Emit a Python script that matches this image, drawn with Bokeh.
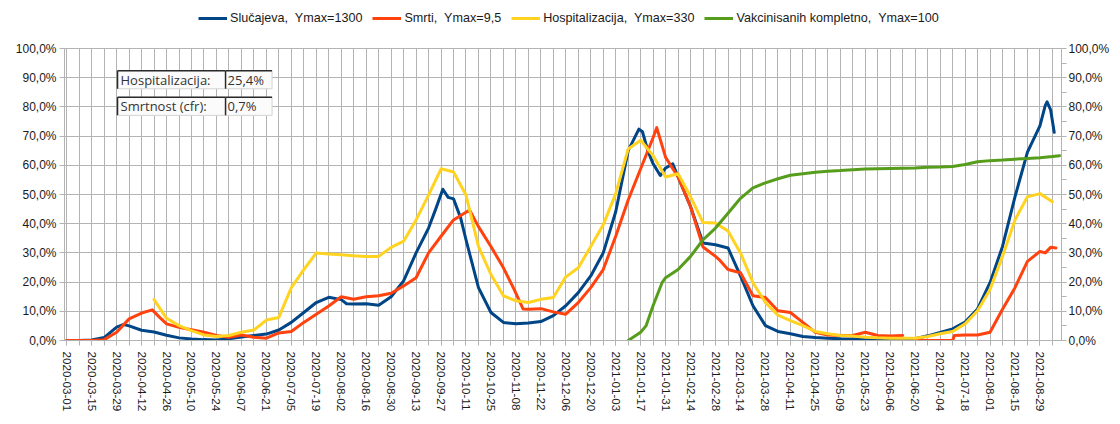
import pandas as pd
from bokeh.plotting import figure
from bokeh.layouts import column
from bokeh.models import FixedTicker, LinearAxis, Legend, LegendItem, Range1d, Label
from bokeh.embed import file_html
from bokeh.resources import INLINE

NaN = float("nan")

# ---------------- data (percent of each series' Ymax) ----------------
slucajeva_dates = ["2020-03-01", "2020-03-08", "2020-03-15", "2020-03-22", "2020-03-29", "2020-04-02",
                   "2020-04-05", "2020-04-12", "2020-04-19", "2020-04-26", "2020-05-03", "2020-05-10",
                   "2020-05-17", "2020-05-24", "2020-05-31", "2020-06-07", "2020-06-14", "2020-06-21",
                   "2020-06-28", "2020-07-05", "2020-07-12", "2020-07-19", "2020-07-26", "2020-08-02",
                   "2020-08-05", "2020-08-09", "2020-08-16", "2020-08-23", "2020-08-30", "2020-09-06",
                   "2020-09-13", "2020-09-20", "2020-09-24", "2020-09-28", "2020-10-01", "2020-10-04",
                   "2020-10-08", "2020-10-11", "2020-10-18", "2020-10-25", "2020-11-01", "2020-11-08",
                   "2020-11-15", "2020-11-22", "2020-11-29", "2020-12-06", "2020-12-13", "2020-12-20",
                   "2020-12-27", "2021-01-03", "2021-01-10", "2021-01-16", "2021-01-18", "2021-01-21",
                   "2021-01-24", "2021-01-28", "2021-01-31", "2021-02-04", "2021-02-07", "2021-02-14",
                   "2021-02-21", "2021-02-28", "2021-03-07", "2021-03-14", "2021-03-21", "2021-03-28",
                   "2021-04-04", "2021-04-11", "2021-04-18", "2021-04-25", "2021-05-02", "2021-05-09",
                   "2021-05-16", "2021-05-23", "2021-05-30", "2021-06-06", "2021-06-13", "2021-06-20",
                   "2021-06-27", "2021-07-04", "2021-07-11", "2021-07-18", "2021-07-25", "2021-08-01",
                   "2021-08-08", "2021-08-15", "2021-08-22", "2021-08-29", "2021-09-01", "2021-09-02",
                   "2021-09-04", "2021-09-06"]
slucajeva_values = [0.0, 0.0, 0.2, 1.0, 4.6, 5.5,
                    5.0, 3.5, 2.9, 1.8, 0.9, 0.5,
                    0.3, 0.2, 0.6, 1.2, 1.7, 2.2,
                    3.6, 6.2, 9.6, 13.0, 14.8, 14.0,
                    12.6, 12.5, 12.6, 12.1, 15.0, 20.4,
                    30.0, 38.5, 45.0, 51.8, 49.0, 48.5,
                    42.0, 34.5, 18.1, 9.6, 6.2, 5.7,
                    6.0, 6.5, 8.5, 11.9, 16.4, 22.1,
                    30.0, 44.1, 65.0, 72.4, 71.5, 65.0,
                    60.5, 56.5, 59.1, 60.5, 56.0, 45.8,
                    33.4, 32.8, 31.7, 22.1, 11.9, 5.1,
                    3.1, 2.3, 1.4, 1.0, 0.8, 0.6,
                    0.5, 0.4, 0.3, 0.2, 0.2, 0.6,
                    1.6, 2.8, 4.0, 6.3, 10.8, 19.8,
                    32.2, 49.2, 64.5, 73.5, 80.5, 81.7,
                    79.0, 71.3]

smrti_dates = ["2020-03-01", "2020-03-08", "2020-03-15", "2020-03-22", "2020-03-29", "2020-04-05",
               "2020-04-12", "2020-04-18", "2020-04-22", "2020-04-26", "2020-05-03", "2020-05-10",
               "2020-05-17", "2020-05-24", "2020-05-31", "2020-06-07", "2020-06-14", "2020-06-21",
               "2020-06-28", "2020-07-05", "2020-07-12", "2020-07-19", "2020-07-26", "2020-08-02",
               "2020-08-09", "2020-08-16", "2020-08-23", "2020-08-30", "2020-09-06", "2020-09-13",
               "2020-09-20", "2020-09-27", "2020-10-04", "2020-10-13", "2020-10-18", "2020-10-25",
               "2020-11-01", "2020-11-07", "2020-11-12", "2020-11-15", "2020-11-22", "2020-11-29",
               "2020-12-06", "2020-12-13", "2020-12-20", "2020-12-27", "2021-01-03", "2021-01-10",
               "2021-01-17", "2021-01-24", "2021-01-26", "2021-01-31", "2021-02-07", "2021-02-14",
               "2021-02-21", "2021-02-28", "2021-03-02", "2021-03-07", "2021-03-14", "2021-03-21",
               "2021-03-28", "2021-04-04", "2021-04-11", "2021-04-18", "2021-04-25", "2021-05-02",
               "2021-05-09", "2021-05-16", "2021-05-23", "2021-05-30", "2021-06-06", "2021-06-13",
               "2021-06-16", "2021-06-20", "2021-07-11", "2021-07-12", "2021-07-18", "2021-07-25",
               "2021-08-01", "2021-08-08", "2021-08-15", "2021-08-22", "2021-08-29", "2021-09-01",
               "2021-09-04", "2021-09-07"]
smrti_values = [0.0, 0.0, 0.0, 0.3, 2.8, 7.4,
                9.4, 10.5, 8.0, 5.7, 4.5, 3.7,
                2.8, 1.7, 1.1, 1.9, 1.1, 0.8,
                2.6, 3.1, 6.2, 9.0, 11.8, 15.0,
                14.1, 15.0, 15.3, 16.2, 18.7, 21.5,
                30.0, 35.7, 41.3, 44.7, 39.0, 32.2,
                24.9, 17.5, 10.8, 10.7, 10.9, 9.8,
                9.0, 13.0, 18.1, 24.3, 35.7, 48.1,
                58.8, 69.5, 72.9, 62.7, 56.0, 45.8,
                32.0, 28.8, 27.7, 24.3, 23.2, 15.3,
                14.7, 10.2, 9.6, 6.2, 2.8, 1.9,
                1.7, 1.7, 2.8, 1.7, 1.5, 1.7,
                NaN, 0.0, 0.0, 1.7, 1.9, 1.9,
                2.8, 10.7, 18.1, 27.1, 30.5, 30.0,
                31.9, 31.7]

hosp_dates = ["2020-04-19", "2020-04-26", "2020-05-03", "2020-05-10", "2020-05-17", "2020-05-24",
              "2020-05-31", "2020-06-07", "2020-06-14", "2020-06-21", "2020-06-28", "2020-07-05",
              "2020-07-12", "2020-07-19", "2020-07-26", "2020-08-02", "2020-08-09", "2020-08-16",
              "2020-08-23", "2020-08-30", "2020-09-06", "2020-09-13", "2020-09-20", "2020-09-27",
              "2020-10-04", "2020-10-11", "2020-10-18", "2020-10-25", "2020-11-01", "2020-11-08",
              "2020-11-15", "2020-11-22", "2020-11-29", "2020-12-06", "2020-12-13", "2020-12-20",
              "2020-12-27", "2021-01-03", "2021-01-10", "2021-01-17", "2021-01-24", "2021-01-31",
              "2021-02-07", "2021-02-14", "2021-02-21", "2021-02-28", "2021-03-07", "2021-03-14",
              "2021-03-21", "2021-03-28", "2021-04-04", "2021-04-11", "2021-04-18", "2021-04-25",
              "2021-05-02", "2021-05-09", "2021-05-16", "2021-05-23", "2021-05-30", "2021-06-06",
              "2021-06-13", "2021-06-20", "2021-06-27", "2021-07-04", "2021-07-11", "2021-07-18",
              "2021-07-25", "2021-08-01", "2021-08-08", "2021-08-15", "2021-08-22", "2021-08-29",
              "2021-09-05"]
hosp_values = [14.0, 7.6, 5.1, 3.4, 1.9, 1.4,
               1.7, 2.8, 3.6, 7.0, 7.9, 18.1,
               24.3, 30.0, 29.6, 29.4, 29.0, 28.8,
               28.8, 31.9, 34.0, 41.3, 49.8, 58.8,
               57.7, 49.8, 32.2, 22.6, 15.3, 13.6,
               13.0, 14.1, 14.7, 21.8, 24.9, 32.2,
               39.6, 50.3, 65.6, 68.6, 63.3, 56.0,
               57.1, 49.2, 40.4, 40.2, 37.5, 30.0,
               19.8, 13.0, 8.7, 6.8, 5.1, 3.1,
               2.3, 1.7, 1.5, 1.1, 0.9, 0.8,
               0.8, 0.8, 1.4, 2.3, 3.1, 5.7,
               10.2, 17.5, 28.8, 41.3, 49.2, 50.3,
               47.5]

vakc_dates = ["2021-01-10", "2021-01-17", "2021-01-20", "2021-01-24", "2021-01-29", "2021-01-31",
              "2021-02-07", "2021-02-14", "2021-02-21", "2021-02-28", "2021-03-07", "2021-03-14",
              "2021-03-21", "2021-03-28", "2021-04-04", "2021-04-11", "2021-04-18", "2021-04-25",
              "2021-05-02", "2021-05-09", "2021-05-16", "2021-05-23", "2021-05-30", "2021-06-06",
              "2021-06-13", "2021-06-20", "2021-06-27", "2021-07-04", "2021-07-11", "2021-07-18",
              "2021-07-25", "2021-08-01", "2021-08-08", "2021-08-15", "2021-08-22", "2021-08-29",
              "2021-09-05", "2021-09-09"]
vakc_values = [0.0, 2.8, 5.0, 12.0, 19.8, 21.5,
               24.3, 28.8, 34.5, 38.5, 43.6, 48.7,
               52.3, 54.0, 55.4, 56.6, 57.1, 57.6,
               58.0, 58.2, 58.5, 58.7, 58.8, 58.9,
               59.0, 59.1, 59.3, 59.4, 59.6, 60.3,
               61.2, 61.6, 61.8, 62.1, 62.3, 62.6,
               63.0, 63.3]

series_names = ["Slučajeva,  Ymax=1300", "Smrti,  Ymax=9,5",
                "Hospitalizacija,  Ymax=330", "Vakcinisanih kompletno,  Ymax=100"]
series_colors = ["#004586", "#ff420e", "#ffd320", "#579d1c"]

table_labels = ["Hospitalizacija:", "Smrtnost (cfr):"]
table_values = ["25,4%", "0,7%"]

y_ticks = [0, 10, 20, 30, 40, 50, 60, 70, 80, 90, 100]
y_tick_labels = ["0,0%", "10,0%", "20,0%", "30,0%", "40,0%", "50,0%",
                 "60,0%", "70,0%", "80,0%", "90,0%", "100,0%"]
x_tick_labels = [d.strftime("%Y-%m-%d") for d in pd.date_range("2020-03-01", "2021-08-29", freq="14D")]

# ---------------- helpers ----------------
ORIGIN = pd.Timestamp("2020-03-01")


def to_days(ds):
    return [(pd.Timestamp(d) - ORIGIN).days for d in ds]


x_ticks = to_days(x_tick_labels)
week_ticks = list(range(0, 560, 7))

GRID = "#b3b3b3"
TXT = "#1a1a1a"
FONT = "Liberation Sans"
W = 1112

# ---------------- main chart ----------------
p = figure(width=W, height=384, output_backend="svg", toolbar_location=None,
           x_range=Range1d(-1.25, 558.1), y_range=Range1d(0, 100),
           min_border_left=64, min_border_right=49, min_border_top=18, min_border_bottom=72)
p.background_fill_color = "white"
p.border_fill_color = "white"
p.outline_line_color = GRID

xa = p.xaxis[0]
xa.ticker = FixedTicker(ticks=x_ticks, minor_ticks=week_ticks)
xa.major_label_overrides = {t: lab for t, lab in zip(x_ticks, x_tick_labels)}
xa.major_label_orientation = "vertical"
xa.major_label_text_font = FONT
xa.major_label_text_font_size = "11.7px"
xa.major_label_text_color = TXT
xa.major_label_standoff = 6
xa.axis_line_color = GRID
xa.major_tick_line_color = GRID
xa.minor_tick_line_color = GRID
xa.major_tick_out = 5
xa.major_tick_in = 0
xa.minor_tick_out = 5
xa.minor_tick_in = 0

ya = p.yaxis[0]
ya.ticker = FixedTicker(ticks=y_ticks)
ya.major_label_overrides = {t: lab for t, lab in zip(y_ticks, y_tick_labels)}
ya.major_label_text_font = FONT
ya.major_label_text_font_size = "12px"
ya.major_label_text_color = TXT
ya.major_label_standoff = 3
ya.axis_line_color = GRID
ya.major_tick_line_color = GRID
ya.major_tick_out = 5
ya.major_tick_in = 0
ya.minor_tick_line_color = None

yr = LinearAxis(ticker=FixedTicker(ticks=y_ticks, minor_ticks=[5, 15, 25, 35, 45, 55, 65, 75, 85, 95]))
yr.major_label_overrides = {t: lab for t, lab in zip(y_ticks, y_tick_labels)}
yr.major_label_text_font = FONT
yr.major_label_text_font_size = "12px"
yr.major_label_text_color = TXT
yr.major_label_standoff = 2
yr.axis_line_color = GRID
yr.major_tick_line_color = GRID
yr.minor_tick_line_color = GRID
yr.major_tick_out = 5
yr.major_tick_in = 0
yr.minor_tick_out = 5
yr.minor_tick_in = 0
p.add_layout(yr, "right")

p.xgrid.ticker = FixedTicker(ticks=week_ticks)
p.ygrid.ticker = FixedTicker(ticks=y_ticks)
p.xgrid.grid_line_color = GRID
p.ygrid.grid_line_color = GRID

for dates, vals, col in [(slucajeva_dates, slucajeva_values, series_colors[0]),
                         (smrti_dates, smrti_values, series_colors[1]),
                         (hosp_dates, hosp_values, series_colors[2]),
                         (vakc_dates, vakc_values, series_colors[3])]:
    p.line(to_days(dates), vals, line_color=col, line_width=3, line_join="round", line_cap="round")

# info table (spreadsheet-like cells)
col_edges = [28.5, 89.1, 115.2]
row_tops = [92.4, 83.3]
row_bottoms = [86.2, 77.1]
for i in range(2):
    for c in range(2):
        l, r_ = col_edges[c], col_edges[c + 1]
        t, b = row_tops[i], row_bottoms[i]
        p.quad(left=[l], right=[r_], top=[t], bottom=[b], fill_color="#fbfbfb",
               line_color="#d4d4d4", line_width=1)
        p.segment(x0=[l, l], y0=[t, t], x1=[r_, l], y1=[t, b], line_color="#2a2a2a", line_width=1.5)
    for c, txt in enumerate([table_labels[i], table_values[i]]):
        p.add_layout(Label(x=col_edges[c], y=(row_tops[i] + row_bottoms[i]) / 2, text=txt,
                           x_offset=3 if c == 0 else 2, text_baseline="middle",
                           text_font="Open Sans", text_font_size="13px", text_color="#333333"))

# ---------------- legend strip on top ----------------
lg = figure(width=W, height=30, output_backend="svg", toolbar_location=None,
            x_range=Range1d(0, 1), y_range=Range1d(0, 1),
            x_axis_location=None, y_axis_location=None, min_border=0)
lg.outline_line_color = None
lg.xgrid.visible = False
lg.ygrid.visible = False
# legend-only renderers, kept outside the visible range
leg_renderers = [lg.line(x=[5, 6], y=[5, 6], line_color=c, line_width=3) for c in series_colors]
legend = Legend(items=[LegendItem(label=n, renderers=[r]) for n, r in zip(series_names, leg_renderers)],
                orientation="horizontal", location=(134, 4))
legend.label_text_font = FONT
legend.label_text_font_size = "12.6px"
legend.label_text_color = TXT
legend.glyph_width = 29
legend.glyph_height = 16
legend.label_height = 16
legend.label_standoff = 3
legend.spacing = 10
legend.padding = 0
legend.margin = 0
legend.border_line_color = None
legend.background_fill_alpha = 0
lg.add_layout(legend, "center")

layout = column(lg, p, spacing=0)
open("out.html", "w").write(file_html(layout, INLINE))
